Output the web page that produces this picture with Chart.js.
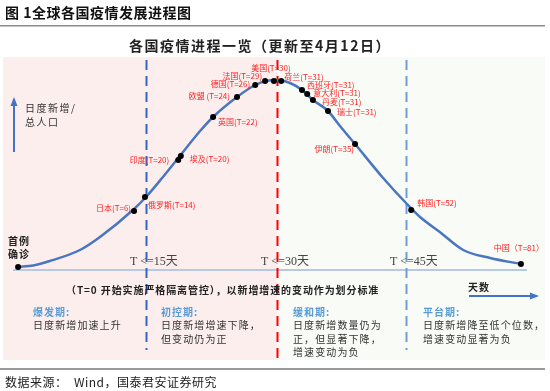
<!DOCTYPE html>
<html><head><meta charset="utf-8">
<script src="https://cdn.jsdelivr.net/npm/chart.js@4"></script>
<style>html,body{margin:0;padding:0;background:#fff;}canvas{display:block;}</style>
</head><body>
<canvas id="c" width="550" height="391"></canvas>
<script>
// Conceptual curve (x: relative time units 0-100, y: relative daily new cases 0-105)
const curveX = [0.4, 3.3, 6.5, 12.3, 16.15, 22.7, 25, 28.1, 31.5, 35.4, 37.9, 42.5, 46, 48.1, 50.2, 52.7, 55, 57.1, 60, 62.3, 65.2, 70.6, 75, 77.7, 81.5, 86, 91.2, 97.1];
const curveY = [1.5, 2.3, 4.5, 10.0, 16.5, 30.5, 36.5, 46, 57, 69.5, 76.5, 86.5, 92.5, 94.5, 95, 93.5, 90, 85, 79.5, 72, 63, 46, 33.5, 26.5, 19, 10, 6, 3];
// Countries on the curve
const countryNames = ['首例', '日本', '俄罗斯', '印度', '埃及', '英国', '欧盟', '德国', '法国', '美国', '荷兰', '西班牙', '意大利', '丹麦', '瑞士', '伊朗', '韩国', '中国'];
const countryT = [null, 6, 14, 20, 20, 22, 24, 26, 29, 30, 31, 31, 31, 31, 31, 35, 52, 81];
const countryX = [0.4, 22.7, 24.8, 31.2, 31.7, 37.9, 42.5, 46.0, 47.9, 49.6, 51.0, 55.0, 56.0, 57.1, 60.0, 65.2, 76.0, 97.1];
const countryY = [1.5, 29.5, 36.5, 55, 57, 76.5, 86.5, 92.5, 94.5, 94.5, 94.5, 90, 88, 85, 79.5, 63, 30, 3];
const countryLabels = ['', '日本(T=6)', '俄罗斯(T=14)', '印度(T=20)', '埃及(T=20)', '英国(T=22)', '欧盟 (T=24)', '德国(T=26)', '法国(T=29)', '美国(T=30)', '荷兰(T=31)', '西班牙(T=31)', '意大利(T=31)', '丹麦(T=31)', '瑞士(T=31)', '伊朗(T=35)', '韩国(T=52)', '中国（T=81）'];
// Phase boundaries (x units) and their labels
const phaseBounds = [25, 50.2, 75];
const phaseBoundLabels = ['T <=15天', 'T <=30天', 'T <=45天'];
const phaseTitles = ['爆发期:', '初控期:', '缓和期:', '平台期:'];
const phaseTexts = [['日度新增加速上升'], ['日度新增增速下降，', '但变动仍为正'], ['日度新增数量仍为', '正，但显著下降，', '增速变动为负'], ['日度新增降至低个位数，', '增速变动显著为负']];

// label placement (style): [align, dx, dy]
const labelPlace = [null, ['right', -3, -3], ['left', 3, 8], ['right', -9, 0], ['left', 9, 3], ['left', 5, 5], ['right', -7, -1], ['right', -5, -1], ['right', -3, -5], ['center', -3, -13], ['left', 3, -4], ['left', 5, -5], ['left', 6, -1], ['left', 9, 2], ['left', 9, 1], ['right', -1, 5], ['left', 6, -7], ['center', -2, -16]];

const CJK = '"Noto Sans CJK SC", "Noto Sans", sans-serif';

function txt(ctx, s, x, y, font, color, align, ls) {
  ctx.save();
  ctx.font = font; ctx.fillStyle = color; ctx.textAlign = align || 'left'; ctx.textBaseline = 'middle';
  ctx.letterSpacing = ls || '0px';
  ctx.fillText(s, x, y);
  ctx.restore();
}
function arrow(ctx, x1, y1, x2, y2, color, w) {
  ctx.save();
  ctx.strokeStyle = color; ctx.fillStyle = color; ctx.lineWidth = w;
  ctx.beginPath(); ctx.moveTo(x1, y1); ctx.lineTo(x2, y2); ctx.stroke();
  const a = Math.atan2(y2 - y1, x2 - x1), L = 7, H = 3.5;
  ctx.beginPath();
  ctx.moveTo(x2 + Math.cos(a) * 2, y2 + Math.sin(a) * 2);
  ctx.lineTo(x2 - Math.cos(a) * L - Math.sin(a) * H, y2 - Math.sin(a) * L + Math.cos(a) * H);
  ctx.lineTo(x2 - Math.cos(a) * L + Math.sin(a) * H, y2 - Math.sin(a) * L - Math.cos(a) * H);
  ctx.closePath(); ctx.fill();
  ctx.restore();
}

const decor = {
  id: 'decor',
  beforeDraw(chart) {
    const ctx = chart.ctx, xs = chart.scales.x, ys = chart.scales.y;
    ctx.save();
    ctx.fillStyle = '#fff'; ctx.fillRect(0, 0, 550, 391);
    const mid = xs.getPixelForValue(phaseBounds[1]);
    ctx.fillStyle = '#fdeeee'; ctx.fillRect(3, 57, mid - 3, 303);
    ctx.fillStyle = '#f8fbf6'; ctx.fillRect(mid, 57, 545 - mid, 303);
    // rules
    ctx.fillStyle = '#8a8a8a'; ctx.fillRect(0, 25, 545, 1.5);
    ctx.fillStyle = '#9a9a9a'; ctx.fillRect(0, 368, 545, 2);
    // baseline
    const y0 = ys.getPixelForValue(0);
    ctx.strokeStyle = '#b8c8e6'; ctx.lineWidth = 2;
    ctx.beginPath(); ctx.moveTo(13, y0); ctx.lineTo(527, y0); ctx.stroke();
    // boundary lines
    const cols = ['#3366c4', '#ff0000', '#6f9ddc'];
    const bottoms = [350, 362, 350];
    phaseBounds.forEach((b, i) => {
      const px = Math.round(xs.getPixelForValue(b)) + 0.5;
      ctx.strokeStyle = cols[i]; ctx.lineWidth = 2; ctx.setLineDash([10, 6]);
      ctx.beginPath(); ctx.moveTo(px, 60); ctx.lineTo(px, bottoms[i]); ctx.stroke();
    });
    ctx.setLineDash([]);
    ctx.restore();
    // titles
    txt(ctx, '图 1全球各国疫情发展进程图', 5, 13, 'bold 14px ' + CJK, '#111', 'left', '0.5px');
    txt(ctx, '各国疫情进程一览（更新至4月12日）', 260, 46, 'bold 14px ' + CJK, '#222', 'center', '1.5px');
    txt(ctx, '数据来源：  Wind，国泰君安证券研究', 5, 382, '12px ' + CJK, '#222', 'left', '0.5px');
    // y-axis indicator
    arrow(ctx, 14, 152, 14, 99, '#4472c4', 2);
    txt(ctx, '日度新增/', 25, 108, '10px ' + CJK, '#333', 'left', '1.5px');
    txt(ctx, '总人口', 25, 122, '10px ' + CJK, '#333', 'left', '1.5px');
    txt(ctx, '首例', 8, 241, 'bold 10px ' + CJK, '#222', 'left', '1px');
    txt(ctx, '确诊', 8, 254, 'bold 10px ' + CJK, '#222', 'left', '1px');
    // boundary labels
    phaseBoundLabels.forEach((s, i) => {
      const px = xs.getPixelForValue(phaseBounds[i]);
      txt(ctx, s, px - 16, 262, '12px "Liberation Serif", ' + CJK, '#444', 'left', '0px');
    });
    // criterion text
    txt(ctx, '（T=0 开始实施严格隔离管控），以新增增速的变动作为划分标准', 66, 290, 'bold 10px ' + CJK, '#222', 'left', '0.9px');
    txt(ctx, '天数', 468, 287, 'bold 10px ' + CJK, '#222', 'left', '1px');
    arrow(ctx, 469, 296, 537, 296, '#4472c4', 2);
    // phase descriptions
    const px0 = [33, 161, 293, 423];
    phaseTitles.forEach((t, i) => {
      txt(ctx, t, px0[i], 312, 'bold 10px ' + CJK, '#5b9bd5', 'left', '1px');
      phaseTexts[i].forEach((l, j) => {
        txt(ctx, l, px0[i], 325.5 + j * 13.5, '10px ' + CJK, '#333', 'left', '1.1px');
      });
    });
  },
  afterDatasetsDraw(chart) {
    const ctx = chart.ctx;
    const meta = chart.getDatasetMeta(1);
    meta.data.forEach((pt, i) => {
      const p = labelPlace[i];
      if (!p || !countryLabels[i]) return;
      txt(ctx, countryLabels[i], pt.x + p[1], pt.y + p[2], '8px ' + CJK, '#ff2020', p[0], '0px');
    });
  }
};

new Chart(document.getElementById('c'), {
  type: 'scatter',
  data: {
    datasets: [
      {
        data: curveX.map((x, i) => ({ x, y: curveY[i] })),
        showLine: true, borderColor: '#4a76c0', borderWidth: 2.5, pointRadius: 0,
        cubicInterpolationMode: 'monotone', fill: false, order: 2
      },
      {
        data: countryX.map((x, i) => ({ x, y: countryY[i] })),
        showLine: false, pointRadius: 3, pointBackgroundColor: '#000', pointBorderColor: '#000',
        pointBorderWidth: 0, order: 1
      }
    ]
  },
  options: {
    responsive: false, animation: false, devicePixelRatio: 1,
    layout: { padding: { left: 16, right: 14, top: 60, bottom: 121 } },
    plugins: { legend: { display: false }, tooltip: { enabled: false } },
    scales: {
      x: { type: 'linear', min: 0, max: 100, display: false },
      y: { type: 'linear', min: 0, max: 105, display: false }
    },
    clip: false
  },
  plugins: [decor]
});
</script>
</body></html>
